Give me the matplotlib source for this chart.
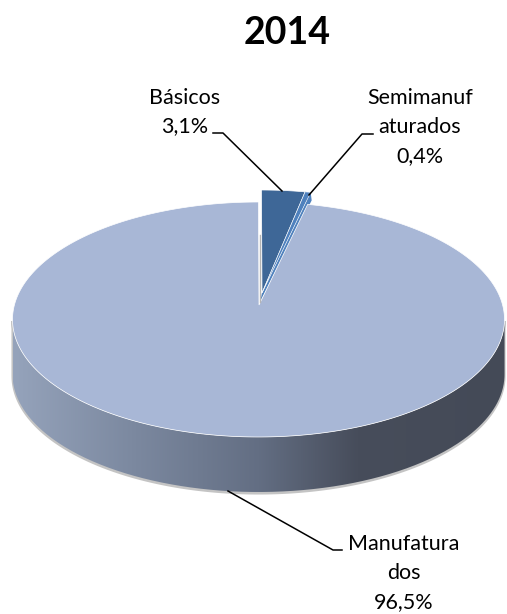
import numpy as np
import matplotlib
matplotlib.use("Agg")
import matplotlib.pyplot as plt
from matplotlib.colors import LinearSegmentedColormap
from matplotlib.patches import PathPatch, Polygon
from matplotlib.path import Path

# Chart data
title = "2014"
categories = ["Básicos", "Semimanuf\naturados", "Manufatura\ndos"]
values = [3.1, 0.4, 96.5]

plt.rcParams['font.family'] = ['Lato', 'DejaVu Sans']

# Pie geometry, in pixels of the picture
CX, CY = 258.5, 319.5
RX, RY = 246, 117.5
APEX = (259, 305)
DEPTH = 55
EXPLODE = (3, -12)
TOP_COLOR = "#a8b7d6"
BASICOS_COLOR = "#3e6797"
SEMI_COLOR = "#4f81bd"


# The view is in perspective, so the far slices look a bit narrower
def warp(angle, gap):
    if angle <= gap:
        return angle * 0.915
    return np.interp(angle, [gap, 360], [gap * 0.915, 360])


def rim(a0, a1, n=300, dy=0):
    t = np.radians(np.linspace(a0, a1, n))
    return np.column_stack([CX + RX * np.sin(t), CY + dy - RY * np.cos(t)])


def wedge(a0, a1, shift=(0, 0)):
    pts = np.vstack([[APEX], rim(a0, a1)])
    return pts + np.array(shift)


fig = plt.figure(figsize=(5.07, 6.14), dpi=100)
ax = fig.add_axes([0, 0, 1, 1])

# Soft grey edge under the wall
lower = rim(90, 270, dy=DEPTH)
front = rim(90, 270)
ax.add_patch(Polygon(np.vstack([front, lower[::-1]]) + [0, 1.5], closed=True,
                     fc="#c4c4c4", ec="#c4c4c4", lw=1.5, zorder=1))

# Wall of the big slice with its left to right shading
wall_path = Path(np.vstack([front, lower[::-1], front[:1]]))
wall_clip = PathPatch(wall_path, transform=ax.transData, fc="none", ec="none")
ax.add_patch(wall_clip)
wall_cmap = LinearSegmentedColormap.from_list("wall", [
    (0.0, "#95a3bb"), (0.25, "#7b889f"), (0.5, "#636e83"),
    (0.7, "#474d5b"), (1.0, "#444a57")])
im = ax.imshow(np.linspace(0, 1, 256).reshape(1, -1), cmap=wall_cmap, aspect="auto",
               extent=[CX - RX, CX + RX, CY + RY + DEPTH, CY], zorder=2)
im.set_clip_path(wall_clip)

# Top faces, angles run clockwise from 12 o'clock
ends = np.cumsum(values) * 3.6
gap = ends[1]
main_top = wedge(warp(gap, gap), 360)
ax.add_patch(Polygon(main_top, closed=True, fc=TOP_COLOR, ec="white", lw=0.5, zorder=3))
ax.plot([APEX[0] + 1, APEX[0] + 1], [235, APEX[1] - 3], color="#b5b5b5", lw=1, zorder=3)

# Pulled out slices, with the small side wall of the thin one behind
semi_a0, semi_a1 = warp(ends[0], gap), warp(ends[1], gap)
side = wedge(semi_a0, semi_a1, EXPLODE)
ax.add_patch(Polygon(np.vstack([side[1:], side[1:][::-1] + [0, 9]]), closed=True,
                     fc=BASICOS_COLOR, ec="none", zorder=2.5))
# cut face of the thin slice, fills up to the edge of the big one
ax.add_patch(Polygon([side[0], side[-1], side[-1] + [1, 8], main_top[0] + [1, -3]], closed=True,
                     fc=SEMI_COLOR, ec="none", zorder=2.8))
ax.add_patch(Polygon(wedge(0, semi_a0, EXPLODE), closed=True, fc=BASICOS_COLOR, ec="white",
                     lw=0.5, zorder=4))
ax.add_patch(Polygon(side, closed=True, fc=SEMI_COLOR, ec="white", lw=0.4, zorder=4))

# Leader lines
ax.plot([213, 223, 282], [133, 133, 191], color="black", lw=1.1, zorder=5)
ax.plot([373, 362, 309], [134, 134, 195], color="black", lw=1.1, zorder=5)
ax.plot([228, 333, 342], [491, 550, 550], color="black", lw=1.1, zorder=5)

# Labels
label_pos = [(185, 112), (420, 127), (404, 573)]
for cat, val, (x, y) in zip(categories, values, label_pos):
    txt = cat + "\n" + f"{val:.1f}%".replace(".", ",")
    ax.text(x, y, txt, ha="center", va="center", fontsize=15.5, color="black",
            linespacing=1.56, zorder=6)
ax.text(287, 33, title, ha="center", va="center", fontsize=27, fontweight="bold", color="black")

ax.set_xlim(0, 507)
ax.set_ylim(614, 0)
ax.axis("off")
fig.savefig("out.png", dpi=100)
